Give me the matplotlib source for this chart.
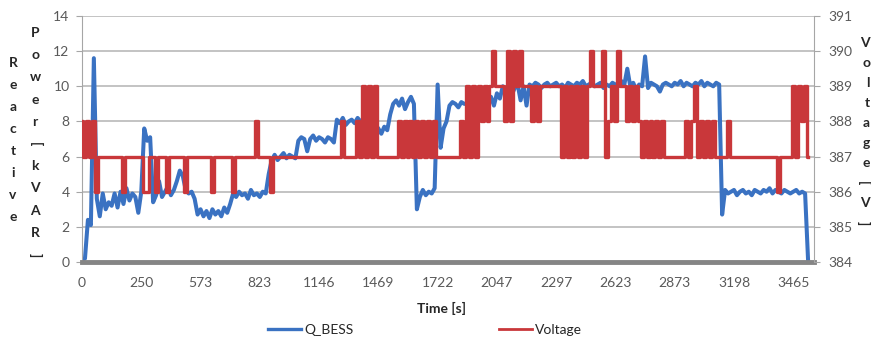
import numpy as np
import matplotlib
matplotlib.use('Agg')
import matplotlib.pyplot as plt
from matplotlib.lines import Line2D

plt.rcParams['font.family'] = ['Lato', 'DejaVu Sans']

# category labels on the time axis (one label every 20 samples)
time_labels = ['0', '250', '573', '823', '1146', '1469', '1722',
               '2047', '2297', '2623', '2873', '3198', '3465']

# reactive power of the BESS [kVAR]
q_bess = [
    0.1, 0.2, 2.4, 2.1, 11.6, 3.6, 2.6, 3.9, 3.0, 3.4,
    3.2, 3.9, 3.1, 4.0, 3.3, 4.2, 3.5, 3.9, 3.7, 2.8,
    4.0, 7.6, 6.9, 7.1, 3.4, 3.8, 4.6, 3.7, 4.0, 4.3,
    3.8, 4.1, 4.6, 5.2, 4.9, 4.1, 3.9, 4.0, 3.6, 2.7,
    3.0, 2.6, 2.9, 2.5, 3.0, 2.7, 2.9, 2.6, 3.1, 2.8,
    3.3, 3.9, 3.7, 4.0, 3.8, 3.9, 3.6, 4.1, 3.8, 3.9,
    3.7, 4.0, 3.9, 5.0, 5.8, 6.1, 5.8, 6.0, 6.2, 5.9,
    6.1, 6.0, 5.9, 6.9, 7.1, 7.0, 6.3, 7.0, 7.2, 6.9,
    7.1, 7.0, 6.8, 7.1, 7.0, 6.8, 8.1, 7.9, 8.2, 7.8,
    8.0, 8.1, 7.9, 8.2, 8.0, 7.8, 8.1, 7.9, 7.7, 7.8,
    7.6, 7.3, 7.7, 7.5, 8.4, 9.0, 9.2, 8.9, 9.3, 8.7,
    9.1, 9.4, 9.0, 3.0, 3.7, 4.1, 3.8, 4.0, 3.9, 4.2,
    10.1, 6.5, 7.6, 8.0, 8.9, 9.1, 9.0, 8.8, 9.1, 9.0,
    9.0, 9.4, 8.8, 9.2, 9.5, 9.0, 9.6, 9.1, 9.4, 8.9,
    9.6, 9.3, 10.0, 9.7, 10.1, 9.5, 9.9, 10.1, 9.2, 10.0,
    8.9, 10.1, 10.0, 10.2, 10.1, 9.9, 10.1, 10.2, 10.0, 10.1,
    10.2, 10.0, 10.1, 9.9, 10.2, 10.1, 10.0, 10.2, 10.1, 10.3,
    10.0, 10.1, 10.2, 10.0, 10.1, 10.2, 9.9, 10.1, 10.0, 10.2,
    10.1, 10.0, 10.3, 10.1, 11.0, 10.0, 10.2, 9.8, 10.1, 10.0,
    11.7, 9.9, 10.2, 10.1, 10.0, 9.7, 10.1, 10.2, 10.1, 10.0,
    10.2, 10.1, 10.3, 10.0, 10.2, 10.1, 10.0, 10.2, 10.1, 10.3,
    10.0, 10.2, 10.1, 10.0, 10.2, 10.1, 2.7, 4.1, 3.9, 4.0,
    4.1, 3.8, 4.0, 4.1, 3.9, 4.0, 3.8, 4.1, 4.0, 3.9,
    4.1, 4.0, 4.2, 3.9, 4.1, 4.0, 3.9, 4.1, 4.0, 3.9,
    4.0, 4.1, 3.9, 4.0, 3.9, 0.1,
]

# bus voltage [V]
voltage = [
    388, 387, 388, 387, 388, 386, 387, 387, 387, 387,
    387, 387, 387, 387, 386, 387, 387, 387, 387, 387,
    387, 386, 386, 387, 387, 386, 387, 387, 387, 386,
    387, 387, 387, 387, 387, 386, 387, 387, 387, 387,
    387, 387, 387, 387, 386, 387, 387, 387, 387, 387,
    387, 386, 387, 387, 387, 387, 387, 387, 387, 388,
    387, 387, 387, 387, 386, 387, 387, 387, 387, 387,
    387, 387, 387, 387, 387, 387, 387, 387, 387, 387,
    387, 387, 387, 387, 387, 387, 387, 387, 388, 387,
    387, 387, 387, 388, 387, 389, 387, 389, 387, 389,
    387, 387, 387, 387, 387, 387, 387, 388, 387, 388,
    387, 388, 387, 388, 387, 388, 387, 388, 387, 388,
    387, 387, 387, 387, 387, 387, 387, 387, 388, 387,
    389, 387, 389, 387, 389, 388, 389, 388, 389, 390,
    389, 389, 389, 388, 390, 388, 390, 389, 390, 389,
    389, 389, 388, 389, 388, 389, 389, 389, 389, 389,
    389, 389, 387, 389, 387, 389, 387, 389, 387, 389,
    387, 389, 390, 389, 389, 389, 390, 387, 388, 389,
    388, 390, 389, 389, 388, 389, 388, 389, 388, 387,
    388, 387, 388, 387, 388, 387, 388, 387, 387, 387,
    387, 387, 387, 387, 388, 387, 388, 389, 387, 388,
    387, 388, 387, 388, 387, 387, 387, 387, 388, 387,
    387, 387, 387, 387, 387, 387, 387, 387, 387, 387,
    387, 387, 387, 387, 387, 386, 387, 387, 387, 387,
    389, 387, 389, 388, 389, 387,
]

W, H = 871, 339
fig = plt.figure(figsize=(W / 100, H / 100), dpi=100)
ax = fig.add_axes([82 / W, 1 - 262 / H, (814 - 82) / W, (262 - 16) / H])
ax2 = ax.twinx()

ax.plot(np.arange(len(q_bess)), q_bess, color='#3A72C2', lw=2.9)
ax2.plot(np.arange(len(voltage)), voltage, color='#C9373A', lw=2.4,
         drawstyle='steps-mid')

ax.set_xlim(0, 247)
ax.set_ylim(0, 14)
ax2.set_ylim(384, 391)
ax.set_yticks(range(0, 15, 2))
ax2.set_yticks(range(384, 392))
ax.set_xticks(np.arange(len(time_labels)) * 20)
ax.set_xticklabels(time_labels)

ax.grid(axis='y', color='#BEBEBE', lw=1.3)
ax.set_axisbelow(True)

for a in (ax, ax2):
    a.spines['top'].set_visible(False)
ax.spines['right'].set_visible(False)
ax2.spines['left'].set_visible(False)
ax2.spines['bottom'].set_visible(False)
ax.spines['left'].set_color('#A6A6A6')
ax2.spines['right'].set_color('#A6A6A6')
ax.spines['bottom'].set_color('#858585')
ax.spines['bottom'].set_linewidth(3.5)

ax.tick_params(axis='y', length=4, color='#A6A6A6', labelcolor='#595959',
               labelsize=10, pad=5)
ax2.tick_params(axis='y', length=4, color='#A6A6A6', labelcolor='#595959',
                labelsize=10, pad=6)
ax.tick_params(axis='x', length=0, labelcolor='#595959', labelsize=10, pad=11)

fig.text(441 / W, 1 - 308 / H, 'Time [s]', ha='center', va='center',
         fontweight='bold', fontsize=10, color='#262626')


def stacked(x, y0, step, chars, ha='center'):
    # Excel-like vertical stacked axis title, brackets turned sideways
    for k, ch in enumerate(chars):
        rot = -90 if ch in '[]' else 0
        fig.text(x / W, 1 - (y0 + k * step) / H, ch, ha=ha, va='center',
                 rotation=rot, fontweight='bold', fontsize=10, color='#262626')


stacked(13, 63, 22, 'Reactive')
stacked(35, 33, 22.2, 'Power[kVAR]')
stacked(870, 43, 20, 'Voltage[V]', ha='right')

handles = [Line2D([], [], color='#3A72C2', lw=2.4),
           Line2D([], [], color='#C9373A', lw=2.0)]
fig.legend(handles, ['Q_BESS', 'Voltage'], loc='center',
           bbox_to_anchor=(425 / W, 1 - 330 / H), ncol=2, frameon=False,
           fontsize=10, handlelength=2.4, handletextpad=0.2,
           columnspacing=10.5, labelcolor='#262626')

fig.savefig('out.png', dpi=100)
